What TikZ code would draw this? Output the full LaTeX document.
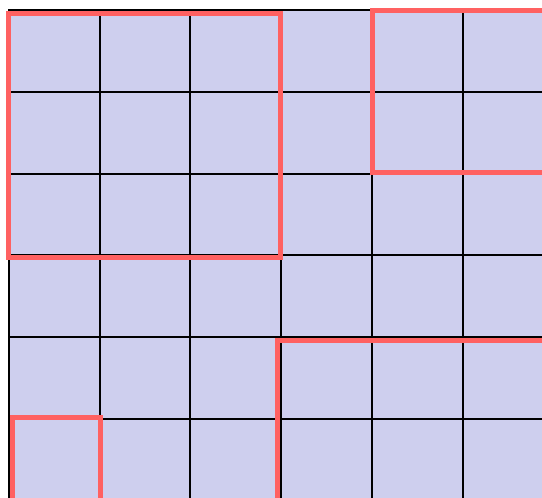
\documentclass[tikz,border=0pt]{standalone}
\usepackage{tikz}
\definecolor{cellfill}{RGB}{206,207,238}
\definecolor{boxred}{RGB}{255,97,97}

\begin{document}
\begin{tikzpicture}[x=1pt,y=-1pt,
  gridline/.style={draw=black,line width=2pt},
  hilite/.style={draw=boxred,line width=5pt,line join=miter}]
\useasboundingbox (0,0) rectangle (542,498);
\clip (0,0) rectangle (542,498);

% cells
\fill[cellfill] (9,10) rectangle (600,600);
\foreach \i in {0,...,6} \draw[gridline] (9+90.7*\i,10) -- (9+90.7*\i,600);
\foreach \j in {0,...,6} \draw[gridline] (8,10+81.8*\j) -- (600,10+81.8*\j);

% highlighted blocks
\draw[hilite] (8,13) rectangle (280,257);
\draw[hilite] (372.5,10) rectangle (620,172.5);
\draw[hilite] (277,340) rectangle (620,620);
\draw[hilite] (12,417.5) rectangle (100.5,620);
\end{tikzpicture}
\end{document}
